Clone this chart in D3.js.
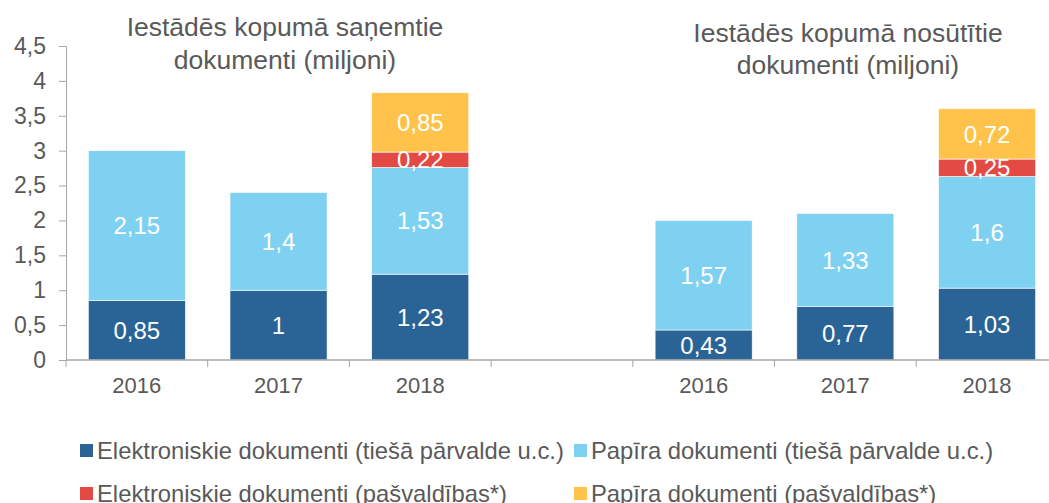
<!DOCTYPE html>
<html lang="lv">
<head>
    <meta charset="UTF-8">
    <script src="https://d3js.org/d3.v7.min.js"></script>
    <title>Dokumenti</title>
    <style>
        body { margin: 0; background: white; }
        svg text { font-family: "Liberation Sans", Arial, sans-serif; }
    </style>
</head>
<body>
    <div id="chart"></div>
    <script>
        /* ---------------- data ---------------- */
        const categories = ["2016a", "2017a", "2018a", "gap", "2016b", "2017b", "2018b"];
        const tickLabels = ["2016", "2017", "2018", "", "2016", "2017", "2018"];
        const seriesNames = [
            "Elektroniskie dokumenti (tiešā pārvalde u.c.)",
            "Papīra dokumenti (tiešā pārvalde u.c.)",
            "Elektroniskie dokumenti (pašvaldības*)",
            "Papīra dokumenti (pašvaldības*)"
        ];
        const elTiesa = [0.85, 1, 1.23, 0, 0.43, 0.77, 1.03];
        const papTiesa = [2.15, 1.4, 1.53, 0, 1.57, 1.33, 1.6];
        const elPasv = [0, 0, 0.22, 0, 0, 0, 0.25];
        const papPasv = [0, 0, 0.85, 0, 0, 0, 0.72];
        const yTicks = [0, 0.5, 1, 1.5, 2, 2.5, 3, 3.5, 4, 4.5];
        const titles = [
            ["Iestādēs kopumā saņemtie", "dokumenti (miljoni)"],
            ["Iestādēs kopumā nosūtītie", "dokumenti (miljoni)"]
        ];

        const colors = ["#2A6496", "#7FD1F2", "#E34A43", "#FFC34B"];
        const textColor = "#595959";
        const axisColor = "#A6A6A6";
        const keys = ["s0", "s1", "s2", "s3"];

        const width = 1049, height = 503;
        const svg = d3.select("#chart").append("svg")
            .attr("width", width)
            .attr("height", height);

        // scales
        const step = 141.7;
        const x = d3.scaleBand()
            .domain(categories)
            .range([66, 66 + step * categories.length])
            .paddingInner(0.315)
            .paddingOuter(0.1575);

        const y = d3.scaleLinear()
            .domain([0, 4.5])
            .range([360, 46]);

        const fmt = v => String(v).replace(".", ",");

        // stacking
        const rows = categories.map((c, i) => ({
            cat: c, s0: elTiesa[i], s1: papTiesa[i], s2: elPasv[i], s3: papPasv[i]
        }));
        const stack = d3.stack().keys(keys)(rows);

        /* ---------------- y axis ---------------- */
        const yAxis = svg.append("g")
            .attr("transform", "translate(66,0)")
            .call(d3.axisLeft(y).tickValues(yTicks).tickSize(7).tickPadding(13).tickFormat(fmt));
        yAxis.selectAll("line, path").attr("stroke", axisColor);
        yAxis.selectAll("text").attr("fill", textColor).style("font-size", "23px");

        /* ---------------- bars ---------------- */
        stack.forEach((layer, k) => {
            svg.append("g").selectAll("rect")
                .data(layer.filter(d => d.data[keys[k]] > 0))
                .join("rect")
                .attr("x", d => x(d.data.cat))
                .attr("width", x.bandwidth())
                .attr("y", d => y(d[1]))
                .attr("height", d => y(d[0]) - y(d[1]))
                .attr("fill", colors[k])
                .attr("stroke", "white")
                .attr("stroke-width", 0.6);
        });

        // value labels
        stack.forEach((layer, k) => {
            svg.append("g").selectAll("text")
                .data(layer.filter(d => d.data[keys[k]] > 0))
                .join("text")
                .attr("x", d => x(d.data.cat) + x.bandwidth() / 2)
                .attr("y", d => (y(d[0]) + y(d[1])) / 2)
                .attr("dy", "0.36em")
                .attr("text-anchor", "middle")
                .attr("fill", "white")
                .style("font-size", "24px")
                .text(d => fmt(d.data[keys[k]]));
        });

        /* ---------------- x axis ---------------- */
        const xg = svg.append("g");
        xg.append("line")
            .attr("x1", 66).attr("x2", width)
            .attr("y1", y(0)).attr("y2", y(0))
            .attr("stroke", axisColor).attr("stroke-width", 1.5);
        const edges = categories.map(c => x(c) - x.step() * x.paddingInner() / 2);
        edges.push(edges[edges.length - 1] + x.step());
        xg.selectAll("line.tick")
            .data(edges)
            .join("line")
            .attr("class", "tick")
            .attr("x1", d => d).attr("x2", d => d)
            .attr("y1", y(0)).attr("y2", y(0) + 7)
            .attr("stroke", axisColor);
        xg.selectAll("text")
            .data(categories)
            .join("text")
            .attr("x", d => x(d) + x.bandwidth() / 2)
            .attr("y", 393)
            .attr("text-anchor", "middle")
            .attr("fill", textColor)
            .style("font-size", "22px")
            .text((d, i) => tickLabels[i]);

        /* ---------------- titles ---------------- */
        const titlePos = [
            { cx: 285, ys: [36, 69] },
            { cx: 848, ys: [42, 74] }
        ];
        titles.forEach((t, i) => {
            t.forEach((line, j) => {
                svg.append("text")
                    .attr("x", titlePos[i].cx)
                    .attr("y", titlePos[i].ys[j])
                    .attr("text-anchor", "middle")
                    .attr("fill", textColor)
                    .style("font-size", "26.5px")
                    .text(line);
            });
        });

        /* ---------------- legend ---------------- */
        const legendPos = [
            { x: 80, y: 450 }, { x: 574, y: 450 },
            { x: 80, y: 493 }, { x: 574, y: 493 }
        ];
        seriesNames.forEach((name, i) => {
            const g = svg.append("g")
                .attr("transform", `translate(${legendPos[i].x},${legendPos[i].y})`);
            g.append("rect")
                .attr("x", 0).attr("y", -6)
                .attr("width", 13).attr("height", 13)
                .attr("fill", colors[i]);
            g.append("text")
                .attr("x", 17).attr("y", 0)
                .attr("dy", "0.36em")
                .attr("fill", textColor)
                .style("font-size", "23.8px")
                .text(name);
        });
    </script>
</body>
</html>
